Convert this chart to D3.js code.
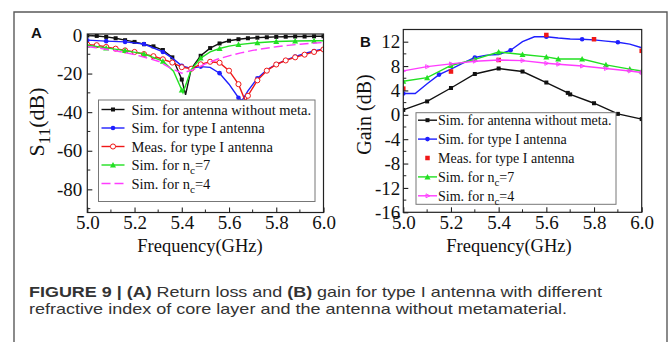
<!DOCTYPE html>
<html>
<head>
<meta charset="utf-8">
<script src="https://cdn.jsdelivr.net/npm/d3@7/dist/d3.min.js"></script>
<style>
  html, body { margin: 0; padding: 0; background: #fff; }
  svg { display: block; }
</style>
</head>
<body>
<svg id="fig" width="670" height="342"></svg>
<script>
// ---- Panel A: return loss S11 (dB) vs frequency (GHz) ----
const aBlackF = [5.00,5.04,5.08,5.12,5.16,5.20,5.24,5.28,5.32,5.36,5.40,5.416,5.44,5.48,5.52,5.56,5.60,5.64,5.68,5.72,5.76,5.80,5.84,5.88,5.92,5.96,6.00];
const aBlackV = [-0.3,-0.5,-1.0,-1.7,-2.7,-3.6,-4.8,-5.9,-7.8,-11.6,-23.1,-31.0,-17.5,-10.8,-6.8,-4.4,-3.0,-2.2,-1.7,-1.4,-1.2,-1.0,-0.9,-0.8,-0.8,-0.7,-0.7];

const aBlueF = [5.00,5.08,5.16,5.24,5.32,5.36,5.40,5.44,5.48,5.52,5.56,5.60,5.64,5.655,5.68,5.72,5.76,5.80,5.84,5.88,5.92,5.96,6.00];
const aBlueV = [-2.7,-3.2,-3.6,-4.7,-8.8,-12.0,-16.0,-17.3,-16.4,-16.8,-19.8,-25.5,-32.5,-34.0,-29.0,-22.5,-18.0,-15.2,-13.0,-11.2,-9.6,-8.3,-7.3];

const aRedF = [5.00,5.04,5.08,5.12,5.16,5.20,5.24,5.28,5.32,5.36,5.40,5.44,5.48,5.52,5.56,5.60,5.64,5.67,5.68,5.72,5.76,5.80,5.84,5.88,5.92,5.96,6.00];
const aRedV = [-5.0,-5.3,-6.2,-7.1,-8.0,-8.8,-9.9,-11.0,-12.6,-14.3,-16.7,-17.5,-15.2,-13.9,-14.4,-18.5,-25.5,-34.5,-31.5,-23.5,-18.5,-15.3,-13.2,-11.6,-10.2,-8.8,-7.5];

const aGreenF = [5.00,5.08,5.16,5.24,5.32,5.365,5.40,5.405,5.44,5.48,5.52,5.56,5.60,5.64,5.72,5.80,5.88,5.96,6.00];
const aGreenV = [-5.3,-6.7,-8.1,-9.8,-13.6,-18.8,-28.5,-30.0,-18.0,-12.0,-8.8,-7.0,-5.8,-5.0,-4.0,-3.4,-3.1,-3.0,-3.0];

const aPinkF = [5.00,5.05,5.10,5.15,5.20,5.25,5.30,5.35,5.40,5.45,5.50,5.55,5.60,5.65,5.70,5.75,5.80,5.85,5.90,5.95,6.00];
const aPinkV = [-6.0,-6.8,-7.8,-8.9,-10.2,-11.8,-13.6,-17.0,-19.8,-18.0,-15.0,-12.6,-10.8,-9.3,-8.0,-7.0,-6.1,-5.4,-4.8,-4.3,-3.9];

const aYTicks = [0,-20,-40,-60,-80];

// ---- Panel B: gain (dB) vs frequency (GHz) ----
const bBlackF = [5.0,5.1,5.2,5.3,5.4,5.5,5.6,5.69,5.7,5.8,5.9,6.0];
const bBlackV = [0.8,2.2,4.4,6.7,7.6,7.1,5.3,3.6,3.35,1.9,0.15,-0.7];

const bBlueF = [5.0,5.05,5.1,5.15,5.2,5.25,5.3,5.35,5.4,5.45,5.5,5.55,5.6,5.65,5.7,5.75,5.8,5.85,5.9,5.95,6.0];
const bBlueV = [3.5,3.5,5.1,6.6,7.5,8.5,9.4,9.8,9.9,10.6,12.0,12.8,12.8,12.6,12.45,12.4,12.3,12.1,11.9,11.6,11.0];

const bRedF = [5.0,5.2,5.4,5.6,5.8,6.0];
const bRedV = [4.3,7.1,9.0,13.1,12.4,10.5];

const bGreenF = [5.0,5.1,5.2,5.3,5.4,5.5,5.6,5.65,5.75,5.85,5.95,6.0];
const bGreenV = [5.5,6.1,8.1,9.1,10.3,9.9,9.5,9.15,9.15,8.2,7.5,7.2];

const bPinkF = [5.0,5.1,5.2,5.3,5.4,5.5,5.6,5.65,5.75,5.85,5.95,6.0];
const bPinkV = [7.2,7.9,8.35,8.8,9.0,8.9,8.45,8.3,8.0,7.6,7.2,6.95];

const bYTicks = [12,8,4,0,-4,-8,-12,-16];

const xTicks = [5.0,5.2,5.4,5.6,5.8,6.0];

const legendA = ["Sim. for antenna without meta.", "Sim. for  type I  antenna", "Meas. for type I  antenna", "Sim. for n|c|=7", "Sim. for n|c|=4"];
const legendB = ["Sim. for antenna without meta.", "Sim. for type I antenna", "Meas. for type I antenna", "Sim. for n|c|=7", "Sim. for n|c|=4"];

const COL = { black: "#111", blue: "#1f1fff", red: "#f01818", green: "#22e022", pink: "#ff3cff" };
const SERIF = "'Liberation Serif', 'Times New Roman', serif";
const SANS = "'Liberation Sans', Arial, Helvetica, sans-serif";
const TICK_FONT = 19;

const svg = d3.select("#fig");

// Outer figure frame (open at the bottom edge)
svg.append("path")
  .attr("d", "M14,342 L14,12 L667,12 L667,342")
  .attr("fill", "none").attr("stroke", "#5a5a5a").attr("stroke-width", 1.4);

function zipSeries(F, V) { return F.map((f, i) => ({ f: f, v: V[i] })); }

function onStep(f, step) {
  if (!step) return true;
  const k = (f - 5) / step;
  return Math.abs(k - Math.round(k)) < 1e-6;
}

function drawMarker(g, kind, cx, cy, color, size) {
  const s = size || 4;
  if (kind === "square") {
    g.append("rect").attr("x", cx - s / 2).attr("y", cy - s / 2).attr("width", s).attr("height", s).attr("fill", color);
  } else if (kind === "circle") {
    g.append("circle").attr("cx", cx).attr("cy", cy).attr("r", s / 2 + 0.3).attr("fill", color);
  } else if (kind === "ocircle") {
    g.append("circle").attr("cx", cx).attr("cy", cy).attr("r", s / 2 + 0.3).attr("fill", "#fff").attr("stroke", color).attr("stroke-width", 1);
  } else if (kind === "triangle") {
    const h = s + 1;
    g.append("path").attr("d", `M${cx},${cy - h / 2 - 0.5} L${cx + h / 2 + 0.5},${cy + h / 2} L${cx - h / 2 - 0.5},${cy + h / 2} Z`).attr("fill", color);
  } else if (kind === "rtri") {
    g.append("path").attr("d", `M${cx + 2.5},${cy} L${cx - 1.5},${cy - 2} L${cx - 1.5},${cy + 2} Z`).attr("fill", "none").attr("stroke", color).attr("stroke-width", 0.9);
  }
}

// Text with an optional subscript written as "n|c|=7"
function richText(g, x, y, str, size, anchor) {
  const t = g.append("text").attr("x", x).attr("y", y)
    .attr("font-family", SERIF).attr("font-size", size).attr("fill", "#111")
    .attr("text-anchor", anchor || "start");
  const parts = str.split("|");
  parts.forEach((p, i) => {
    if (i % 2 === 1) {
      t.append("tspan").attr("dy", size * 0.28).attr("font-size", size * 0.78).text(p);
    } else {
      const ts = t.append("tspan").text(p);
      if (i > 0) ts.attr("dy", -size * 0.28);
    }
  });
  return t;
}

function panel(cfg) {
  const g = svg.append("g");
  const x = d3.scaleLinear().domain([5.0, 6.0]).range([cfg.left, cfg.right]);
  const y = d3.scaleLinear().domain(cfg.yDomain).range([cfg.bottom, cfg.top]);

  const plot = g.append("g");
  const clipId = "clip" + cfg.id;
  svg.append("clipPath").attr("id", clipId).append("rect")
    .attr("x", cfg.left).attr("y", cfg.top).attr("width", cfg.right - cfg.left).attr("height", cfg.bottom - cfg.top);

  // Series lines and markers
  cfg.series.forEach(s => {
    const data = zipSeries(s.F, s.V);
    const layer = plot.append("g").attr("clip-path", `url(#${clipId})`);
    if (s.line) {
      layer.append("path").datum(data)
        .attr("d", d3.line().x(d => x(d.f)).y(d => y(d.v)).curve(s.curve || d3.curveLinear))
        .attr("fill", "none").attr("stroke", s.color).attr("stroke-width", s.width || 1.4)
        .attr("stroke-dasharray", s.dash || null);
    }
    if (s.marker) {
      data.filter(d => onStep(d.f, s.step)).forEach(d => drawMarker(layer, s.marker, x(d.f), y(d.v), s.color, s.msize));
    }
  });

  // Axes box
  g.append("rect").attr("x", cfg.left).attr("y", cfg.top)
    .attr("width", cfg.right - cfg.left).attr("height", cfg.bottom - cfg.top)
    .attr("fill", "none").attr("stroke", "#222").attr("stroke-width", 1.2);

  // Bottom axis: inward ticks
  const xAxis = d3.axisBottom(x).tickValues(xTicks).tickFormat(d3.format(".1f")).tickSizeInner(-5).tickSizeOuter(0);
  const gx = g.append("g").attr("transform", `translate(0,${cfg.bottom})`).call(xAxis);
  gx.select(".domain").remove();
  gx.selectAll("line").attr("stroke", "#222").attr("stroke-width", 1.1);
  gx.selectAll("text").attr("font-family", SERIF).attr("font-size", TICK_FONT).attr("fill", "#111")
    .attr("y", 0).attr("dy", cfg.xLabelDy);
  const xMinor = d3.range(5.1, 6.0, 0.2);
  xMinor.forEach(v => g.append("line").attr("x1", x(v)).attr("x2", x(v)).attr("y1", cfg.bottom).attr("y2", cfg.bottom - 3).attr("stroke", "#222").attr("stroke-width", 1));

  // Left axis: inward ticks
  const yAxis = d3.axisLeft(y).tickValues(cfg.yTicks).tickFormat(d => d3.format("d")(d).replace("−", "-")).tickSizeInner(-5).tickSizeOuter(0);
  const gy = g.append("g").attr("transform", `translate(${cfg.left},0)`).call(yAxis);
  gy.select(".domain").remove();
  gy.selectAll("line").attr("stroke", "#222").attr("stroke-width", 1.1);
  gy.selectAll("text").attr("font-family", SERIF).attr("font-size", TICK_FONT).attr("fill", "#111").attr("x", -cfg.yPad);
  cfg.yMinor.forEach(v => g.append("line").attr("x1", cfg.left).attr("x2", cfg.left + 3).attr("y1", y(v)).attr("y2", y(v)).attr("stroke", "#222").attr("stroke-width", 1));

  // Axis titles
  g.append("text").attr("x", cfg.xTitleX).attr("y", 252).attr("text-anchor", "middle")
    .attr("font-family", SERIF).attr("font-size", 18.5).attr("fill", "#111").text("Frequency(GHz)");
  const yt = g.append("g").attr("transform", `translate(${cfg.yTitleX},${cfg.yTitleY}) rotate(-90)`);
  richText(yt, 0, 0, cfg.yTitle, cfg.yTitleSize, "middle");

  // Panel letter
  g.append("text").attr("x", cfg.letterX).attr("y", cfg.letterY)
    .attr("font-family", SANS).attr("font-weight", "bold").attr("font-size", 15).attr("fill", "#111").text(cfg.id);

  // Legend
  const L = cfg.legend;
  const lg = g.append("g");
  lg.append("rect").attr("x", L.x).attr("y", L.y).attr("width", L.w).attr("height", L.h)
    .attr("fill", "#fff").attr("stroke", "#777").attr("stroke-width", 1);
  L.labels.forEach((lab, i) => {
    const s = cfg.series[i];
    const cy = L.y + L.first + i * L.gap;
    if (s.line) {
      lg.append("line").attr("x1", L.x + L.lx0).attr("x2", L.x + L.lx1).attr("y1", cy).attr("y2", cy)
        .attr("stroke", s.color).attr("stroke-width", 1.4).attr("stroke-dasharray", s.dash || null);
    }
    if (s.marker) drawMarker(lg, s.marker, L.x + (L.lx0 + L.lx1) / 2, cy, s.color, s.msize);
    richText(lg, L.x + L.tx, cy + 5, lab, L.size, "start");
  });
}

panel({
  id: "A", left: 87.3, right: 323.5, top: 34, bottom: 212.5, yDomain: [-92, 0.5],
  yTicks: aYTicks, yMinor: [-10,-30,-50,-70,-90], yPad: 5, xLabelDy: 16.5,
  xTitleX: 200, yTitleX: 44, yTitleY: 122, yTitle: "S|11|(dB)", yTitleSize: 22,
  letterX: 31, letterY: 38,
  series: [
    { F: aBlackF, V: aBlackV, color: COL.black, line: true, marker: "square", step: 0.04, msize: 4 },
    { F: aBlueF, V: aBlueV, color: COL.blue, line: true, marker: "circle", step: 0.08, msize: 4 },
    { F: aRedF, V: aRedV, color: COL.red, line: true, marker: "ocircle", step: 0.04, msize: 4.5 },
    { F: aGreenF, V: aGreenV, color: COL.green, line: true, marker: "triangle", step: 0.08, msize: 4 },
    { F: aPinkF, V: aPinkV, color: COL.pink, line: true, dash: "9,4", marker: null }
  ],
  legend: { x: 98.5, y: 100, w: 216.5, h: 101.5, first: 9.5, gap: 18.5, lx0: 3, lx1: 26, tx: 33, size: 14.5, labels: legendA }
});

panel({
  id: "B", left: 403.3, right: 641.7, top: 29.5, bottom: 212.3, yDomain: [-16, 14],
  yTicks: bYTicks, yMinor: [10,6,2,-2,-6,-10,-14], yPad: 3, xLabelDy: 16.5,
  xTitleX: 509, yTitleX: 371, yTitleY: 114.5, yTitle: "Gain (dB)", yTitleSize: 20,
  letterX: 360, letterY: 46.5,
  series: [
    { F: bBlackF, V: bBlackV, color: COL.black, line: true, marker: "square", msize: 4 },
    { F: bBlueF, V: bBlueV, color: COL.blue, line: true, marker: "circle", step: 0.15, msize: 4 },
    { F: bRedF, V: bRedV, color: COL.red, line: false, marker: "square", msize: 4.5 },
    { F: bGreenF, V: bGreenV, color: COL.green, line: true, marker: "triangle", msize: 4 },
    { F: bPinkF, V: bPinkV, color: COL.pink, line: true, marker: "rtri" }
  ],
  legend: { x: 416, y: 112.7, w: 200, h: 91.6, first: 7.5, gap: 18.9, lx0: 2, lx1: 21, tx: 22, size: 14, labels: legendB }
});

// Caption
const cap = svg.append("g").attr("font-family", SANS).attr("font-size", 15).attr("fill", "#333");
const c1 = cap.append("text").attr("x", 29).attr("y", 296.5)
  .attr("textLength", 573).attr("lengthAdjust", "spacingAndGlyphs");
c1.append("tspan").attr("font-weight", "bold").text("FIGURE 9 | (A)");
c1.append("tspan").text(" Return loss and ");
c1.append("tspan").attr("font-weight", "bold").text("(B)");
c1.append("tspan").text(" gain for type I antenna with different");
cap.append("text").attr("x", 29).attr("y", 313.5)
  .attr("textLength", 538).attr("lengthAdjust", "spacingAndGlyphs")
  .text("refractive index of core layer and the antenna without metamaterial.");
</script>
</body>
</html>
